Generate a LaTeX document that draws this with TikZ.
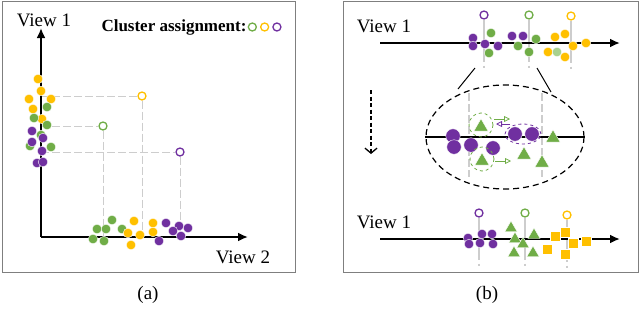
\documentclass[tikz,border=0pt]{standalone}
\usepackage{fontspec}
\setmainfont{Liberation Serif}
\usetikzlibrary{arrows.meta,positioning,shapes.geometric}
\definecolor{cpurple}{HTML}{7030A0}
\definecolor{cgreen}{HTML}{70AD47}
\definecolor{cyellow}{HTML}{FFC000}
\definecolor{lgreen}{HTML}{A9D18E}
\definecolor{lgray}{HTML}{CDCDCD}
\definecolor{boxgray}{HTML}{7F7F7F}
\tikzset{
 dot/.style={circle,fill=#1,draw=white,line width=0.4pt,inner sep=0pt,minimum size=9.6pt},
 bigdot/.style={dot=cpurple,minimum size=14.5pt},
 tri/.style={regular polygon,regular polygon sides=3,fill=cgreen,draw=white,line width=0.4pt,inner sep=0pt,minimum size=14pt},
 bigtri/.style={tri,minimum size=16.5pt},
 sqr/.style={rectangle,fill=cyellow,draw=white,line width=0.4pt,inner sep=0pt,minimum size=10pt},
 ctr/.style={circle,draw=#1,line width=1.3pt,fill=white,inner sep=0pt,minimum size=8pt},
 guide/.style={lgray,line width=1pt,dash pattern=on 8pt off 3pt},
 vline/.style={lgray,line width=1.2pt,dash pattern=on 42pt off 4pt on 2pt off 30pt},
 axis/.style={line width=2pt,-{Latex[length=10pt,width=9pt]}},
 lab/.style={font=\fontsize{19}{21}\selectfont},
 panel/.style={draw=boxgray,line width=1pt},
 moveto/.style={#1,line width=0.8pt,-{Triangle[open,length=6pt,width=6pt]}}
}
\begin{document}
\begin{tikzpicture}[x=1pt,y=-1pt,>=Latex]
\useasboundingbox (0,0) rectangle (640,309);
% (a)
\draw[panel] (2,1) rectangle (295,272);
\coordinate (o) at (41,237);
\coordinate (xend) at (248,237);
\coordinate (yend) at (41,28);
\node[ctr=cyellow] (ay) at (142,96) {};
\node[ctr=cgreen] (ag) at (103,126) {};
\node[ctr=cpurple] (ap) at (180,152) {};
\foreach \c in {ay,ag,ap}
  \draw[guide] (o |- \c) -- (\c) -- (\c |- o);
\draw[axis] (o) -- (xend);
\draw[axis] (o) -- (yend);
\foreach \x/\y [count=\i] in {38/79,41/91,29/99,51/99,33/109,42/119}
  \node[dot=cyellow] (ya\i) at (\x,\y) {};
\foreach \x/\y [count=\i] in {47/107,34/118,47/125,41/135,30/146,51/147}
  \node[dot=cgreen] (ga\i) at (\x,\y) {};
\foreach \x/\y [count=\i] in {32/131,43/138,32/142,42/151,37/163,43/162}
  \node[dot=cpurple] (pa\i) at (\x,\y) {};
\foreach \x/\y [count=\i] in {112/220,97/229,106/229,122/229,93/239,104/241}
  \node[dot=cgreen] (gx\i) at (\x,\y) {};
\foreach \x/\y [count=\i] in {134/221,153/223,128/233,140/235,153/232,131/245}
  \node[dot=cyellow] (yx\i) at (\x,\y) {};
\foreach \x/\y [count=\i] in {166/223,179/226,173/231,188/228,181/236,159/241}
  \node[dot=cpurple] (px\i) at (\x,\y) {};
\node[lab] (v1a) at (44,20) {View 1};
\node[lab] (v2a) at (243,257) {View 2};
\node[font=\bfseries\fontsize{17}{20}\selectfont,inner sep=0pt] (cl) at (174,27) {Cluster assignment:};
\node[ctr=cgreen,right=1pt of cl] (lg) {};
\node[ctr=cyellow,right=3pt of lg] (ly) {};
\node[ctr=cpurple,right=3pt of ly] (lp) {};
\node[lab] (capa) at (148,295) {(a)};
% (b)
\draw[panel] (343,1) rectangle (638,272);
\node[lab] (v1b) at (384,26) {View 1};
\node[ctr=cpurple] (tp) at (484,15) {};
\node[ctr=cgreen] (tg) at (529,15) {};
\node[ctr=cyellow] (ty) at (571,16) {};
\foreach \c in {tp,tg,ty}
  \draw[vline] (\c) -- ++(0,60);
\draw[axis] (380,43) -- (620,43);
\foreach \x/\y [count=\i] in {473/38,473/46,485/44,498/46,512/36,523/36}
  \node[dot=cpurple] (pt\i) at (\x,\y) {};
\foreach \x/\y [count=\i] in {491/33,489/53,518/46,536/39,529/52}
  \node[dot=cgreen] (gt\i) at (\x,\y) {};
\foreach \x/\y [count=\i] in {565/34,555/37,573/46,586/43,548/52,565/57}
  \node[dot=cyellow] (yt\i) at (\x,\y) {};
\node[dot=lgreen] (lt) at (557,52) {};
% zoomed part
\node[ellipse,draw,line width=1.2pt,dash pattern=on 6pt off 4pt,minimum width=158pt,minimum height=104pt] (zm) at (505,137) {};
\draw[line width=1pt] (475,68) -- (458,89);
\draw[line width=1pt] (537,68) -- (551,92);
\draw[lgray,line width=1.2pt,dash pattern=on 8pt off 3pt] (469,93) -- (469,177);
\draw[lgray,line width=1.2pt,dash pattern=on 8pt off 3pt] (542,93) -- (542,177);
\draw[line width=1.5pt] (zm.west) -- (zm.east);
\foreach \x/\y [count=\i] in {453/136,454/147,471/145,493/148,515/134,532/134}
  \node[bigdot] (pz\i) at (\x,\y) {};
\draw[cpurple,line width=0.8pt,dashed] (523,134) ellipse [x radius=18pt,y radius=10pt];
\node[bigtri] (gz1) at (481,127) {};
\node[bigtri] (gz2) at (482,161) {};
\node[bigtri] (gz3) at (553,138) {};
\node[bigtri] (gz4) at (524,155) {};
\node[bigtri] (gz5) at (542,163) {};
\draw[cgreen,line width=0.8pt,dashed] (481,125) circle [radius=12pt];
\draw[cgreen,line width=0.8pt,dashed] (482,159) circle [radius=12pt];
\draw[moveto=cgreen] (494,119) -- (510,119);
\draw[moveto=cpurple] (510,124) -- (496,124);
\draw[moveto=cgreen] (495,161) -- (511,161);
\draw[line width=1.3pt,dash pattern=on 4pt off 2.5pt,-{Straight Barb[length=5pt,width=12pt]}] (371,90) -- (371,154);
% after
\node[lab] (v1c) at (384,222) {View 1};
\node[ctr=cpurple] (bp) at (479,213) {};
\node[ctr=cgreen] (bg) at (525,213) {};
\node[ctr=cyellow] (by) at (567,215) {};
\foreach \c in {bp,bg,by}
  \draw[vline] (\c) -- ++(0,60);
\draw[axis] (380,239) -- (620,239);
\foreach \x/\y [count=\i] in {468/238,469/244,482/234,492/234,480/243,493/244}
  \node[dot=cpurple] (pb\i) at (\x,\y) {};
\foreach \x/\y [count=\i] in {511/228,515/239,534/235,523/244,514/253,533/253}
  \node[tri] (gb\i) at (\x,\y) {};
\foreach \x/\y [count=\i] in {555/236,565/232,573/243,586/241,547/249,565/254}
  \node[sqr] (yb\i) at (\x,\y) {};
\node[lab] (capb) at (487,295) {(b)};
\end{tikzpicture}
\end{document}
